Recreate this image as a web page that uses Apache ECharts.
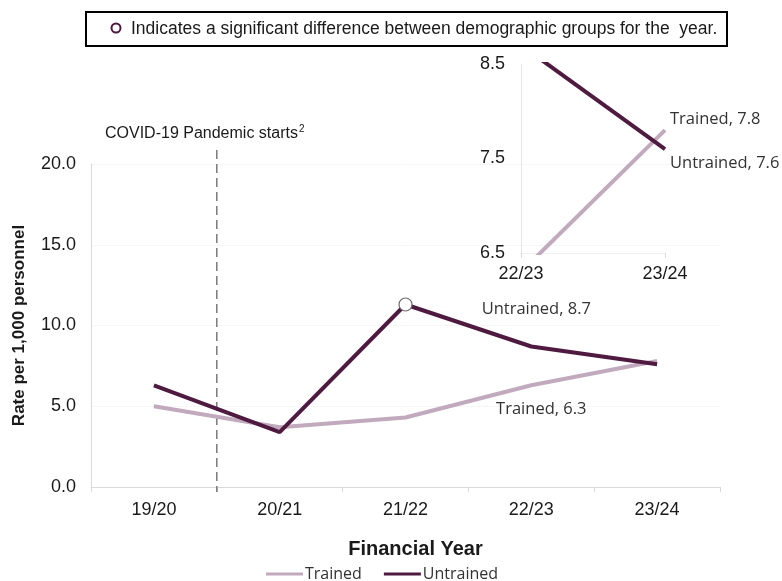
<!DOCTYPE html>
<html>
<head>
<meta charset="utf-8">
<title>Rate per 1,000 personnel by financial year</title>
<script src="https://cdn.jsdelivr.net/npm/echarts@6/dist/echarts.min.js"></script>
<style>
  html, body { margin: 0; padding: 0; background: #ffffff; }
  #chart { width: 782px; height: 581px; }
</style>
</head>
<body>
<div id="chart"></div>
<script>
// Financial years shown on the main axis
const years = ['19/20', '20/21', '21/22', '22/23', '23/24'];

// Rate per 1,000 personnel
const trained = [5.0, 3.7, 4.3, 6.3, 7.8];
const untrained = [6.3, 3.4, 11.3, 8.7, 7.6];

// Year with a significant difference between groups (index into years)
const significantIndex = 2;

// Main axis ticks
const mainTicks = [0, 5, 10, 15, 20];

// Zoomed panel: last two years, narrower value range
const zoomStart = 3;
const zoomYears = years.slice(zoomStart);
const zoomTicks = [6.5, 7.5, 8.5];

const TRAINED_COLOR = '#c1aabd';
const UNTRAINED_COLOR = '#4e1a40';
const AXIS_GREY = '#d9d9d9';
const LABEL_FONT = '"Open Sans", "Noto Sans", sans-serif';
const AXIS_FONT = '"Liberation Sans", Arial, sans-serif';

const chart = echarts.init(document.getElementById('chart'), null, { renderer: 'canvas' });

function valueLabel(name, offset, pos) {
  return {
    show: true,
    position: pos || 'inside',
    offset: offset,
    fontFamily: LABEL_FONT,
    fontSize: 16.5,
    color: '#333333',
    formatter: function (p) { return name + ', ' + Number(p.value).toFixed(1); }
  };
}

// Main series data, with labelled point and significance marker
const trainedMain = trained.map(function (v, i) {
  if (i === 3) return { value: v, label: valueLabel('Trained', [10, 24]) };
  return v;
});
const untrainedMain = untrained.map(function (v, i) {
  const item = { value: v };
  if (i === significantIndex) {
    item.symbol = 'circle';
    item.symbolSize = 13;
    item.itemStyle = { color: '#ffffff', borderColor: '#6b6b6b', borderWidth: 1.2 };
  }
  if (i === 3) item.label = valueLabel('Untrained', [5, -37]);
  return item;
});

// Zoomed-panel data with end labels
const trainedZoom = trained.slice(zoomStart).map(function (v, i, arr) {
  if (i === arr.length - 1) return { value: v, label: valueLabel('Trained', [0, -11], 'right') };
  return v;
});
const untrainedZoom = untrained.slice(zoomStart).map(function (v, i, arr) {
  if (i === arr.length - 1) return { value: v, label: valueLabel('Untrained', [0, 14], 'right') };
  return v;
});

const tickLabelStyle = { fontFamily: AXIS_FONT, fontSize: 18, color: '#1a1a1a' };

// Invisible point markers so the labels have an anchor
function lineSeries(name, xi, data, color, z) {
  return {
    name: name,
    type: 'line',
    xAxisIndex: xi, yAxisIndex: xi,
    data: data,
    symbol: 'circle',
    symbolSize: 0,
    showSymbol: true,
    clip: xi === 1,
    color: color,
    itemStyle: { color: color },
    lineStyle: { color: color, width: 4 },
    z: z
  };
}

const option = {
  backgroundColor: '#ffffff',
  animation: false,
  legend: {
    data: ['Trained', 'Untrained'],
    top: 561,
    left: 261,
    icon: 'rect',
    itemWidth: 37,
    itemHeight: 3,
    itemGap: 22,
    textStyle: { fontFamily: LABEL_FONT, fontSize: 16, color: '#333333', padding: [0, 0, 0, -3] }
  },
  grid: [
    { left: 91, right: 62, top: 164, bottom: 94 },
    { left: 521, width: 144, top: 64, height: 189 }
  ],
  xAxis: [
    {
      gridIndex: 0,
      type: 'category',
      data: years,
      boundaryGap: true,
      name: 'Financial Year',
      nameLocation: 'middle',
      nameGap: 52,
      nameTextStyle: { fontFamily: AXIS_FONT, fontSize: 20, fontWeight: 'bold', color: '#1a1a1a', padding: [0, 0, 0, 20] },
      axisLine: { lineStyle: { color: AXIS_GREY, width: 1 } },
      axisTick: { show: true, length: 5, lineStyle: { color: AXIS_GREY } },
      axisLabel: Object.assign({ margin: 14 }, tickLabelStyle)
    },
    {
      gridIndex: 1,
      type: 'category',
      data: zoomYears,
      boundaryGap: false,
      axisLine: { lineStyle: { color: '#f0f0f0', width: 1 } },
      axisTick: { show: true, length: 5, lineStyle: { color: AXIS_GREY } },
      axisLabel: Object.assign({ margin: 12 }, tickLabelStyle)
    }
  ],
  yAxis: [
    {
      gridIndex: 0,
      type: 'value',
      min: mainTicks[0],
      max: mainTicks[mainTicks.length - 1],
      interval: 5,
      name: 'Rate per 1,000 personnel',
      nameLocation: 'middle',
      nameGap: 63,
      nameTextStyle: { fontFamily: AXIS_FONT, fontSize: 17, fontWeight: 'bold', color: '#1a1a1a' },
      axisLine: { show: true, lineStyle: { color: AXIS_GREY } },
      axisTick: { show: false },
      splitLine: { show: true, lineStyle: { color: '#f6f6f6' } },
      axisLabel: Object.assign({ margin: 15, formatter: function (v) { return v.toFixed(1); } }, tickLabelStyle)
    },
    {
      gridIndex: 1,
      type: 'value',
      min: zoomTicks[0],
      max: zoomTicks[zoomTicks.length - 1],
      axisLine: { show: true, lineStyle: { color: '#e6e6e6' } },
      axisTick: { show: false },
      splitLine: { show: false },
      axisLabel: Object.assign({
        margin: 16,
        customValues: zoomTicks,
        formatter: function (v) { return v.toFixed(1); }
      }, tickLabelStyle)
    }
  ],
  series: [
    lineSeries('Trained', 0, trainedMain, TRAINED_COLOR, 2),
    lineSeries('Untrained', 0, untrainedMain, UNTRAINED_COLOR, 3),
    lineSeries('Trained', 1, trainedZoom, TRAINED_COLOR, 2),
    lineSeries('Untrained', 1, untrainedZoom, UNTRAINED_COLOR, 3)
  ]
};

chart.setOption(option);

// Pandemic start sits on the boundary between the first two financial years
const x0 = chart.convertToPixel({ xAxisIndex: 0 }, years[0]);
const x1 = chart.convertToPixel({ xAxisIndex: 0 }, years[1]);
const pandemicX = (x0 + x1) / 2;
const axisBottom = chart.convertToPixel({ yAxisIndex: 0 }, mainTicks[0]);
const axisTop = chart.convertToPixel({ yAxisIndex: 0 }, mainTicks[mainTicks.length - 1]);

chart.setOption({
  graphic: [
    // Significance key box
    {
      type: 'rect',
      shape: { x: 86, y: 12, width: 641, height: 34 },
      style: { fill: '#ffffff', stroke: '#000000', lineWidth: 2 },
      z: 10
    },
    {
      type: 'circle',
      shape: { cx: 116, cy: 28, r: 4.5 },
      style: { fill: '#ffffff', stroke: UNTRAINED_COLOR, lineWidth: 2 },
      z: 11
    },
    {
      type: 'text',
      x: 131, y: 29,
      style: {
        text: 'Indicates a significant difference between demographic groups for the  year.',
        font: '17.5px "Liberation Sans", Arial, sans-serif',
        fill: '#1a1a1a',
        verticalAlign: 'middle'
      },
      z: 11
    },
    // Pandemic marker line and note
    {
      type: 'line',
      shape: { x1: pandemicX, y1: axisTop - 14, x2: pandemicX, y2: axisBottom + 5 },
      style: { stroke: '#7a7a7a', lineWidth: 1.5, lineDash: [9, 5] },
      z: 1
    },
    {
      type: 'text',
      x: 105, y: 134,
      style: {
        text: 'COVID-19 Pandemic starts{s|2}',
        font: '16px "Liberation Sans", Arial, sans-serif',
        fill: '#1a1a1a',
        verticalAlign: 'middle',
        rich: { s: { fontSize: 10, fontFamily: '"Liberation Sans", Arial, sans-serif', verticalAlign: 'top', padding: [0, 0, 10, 1] } }
      },
      z: 11
    }
  ]
});
</script>
</body>
</html>
